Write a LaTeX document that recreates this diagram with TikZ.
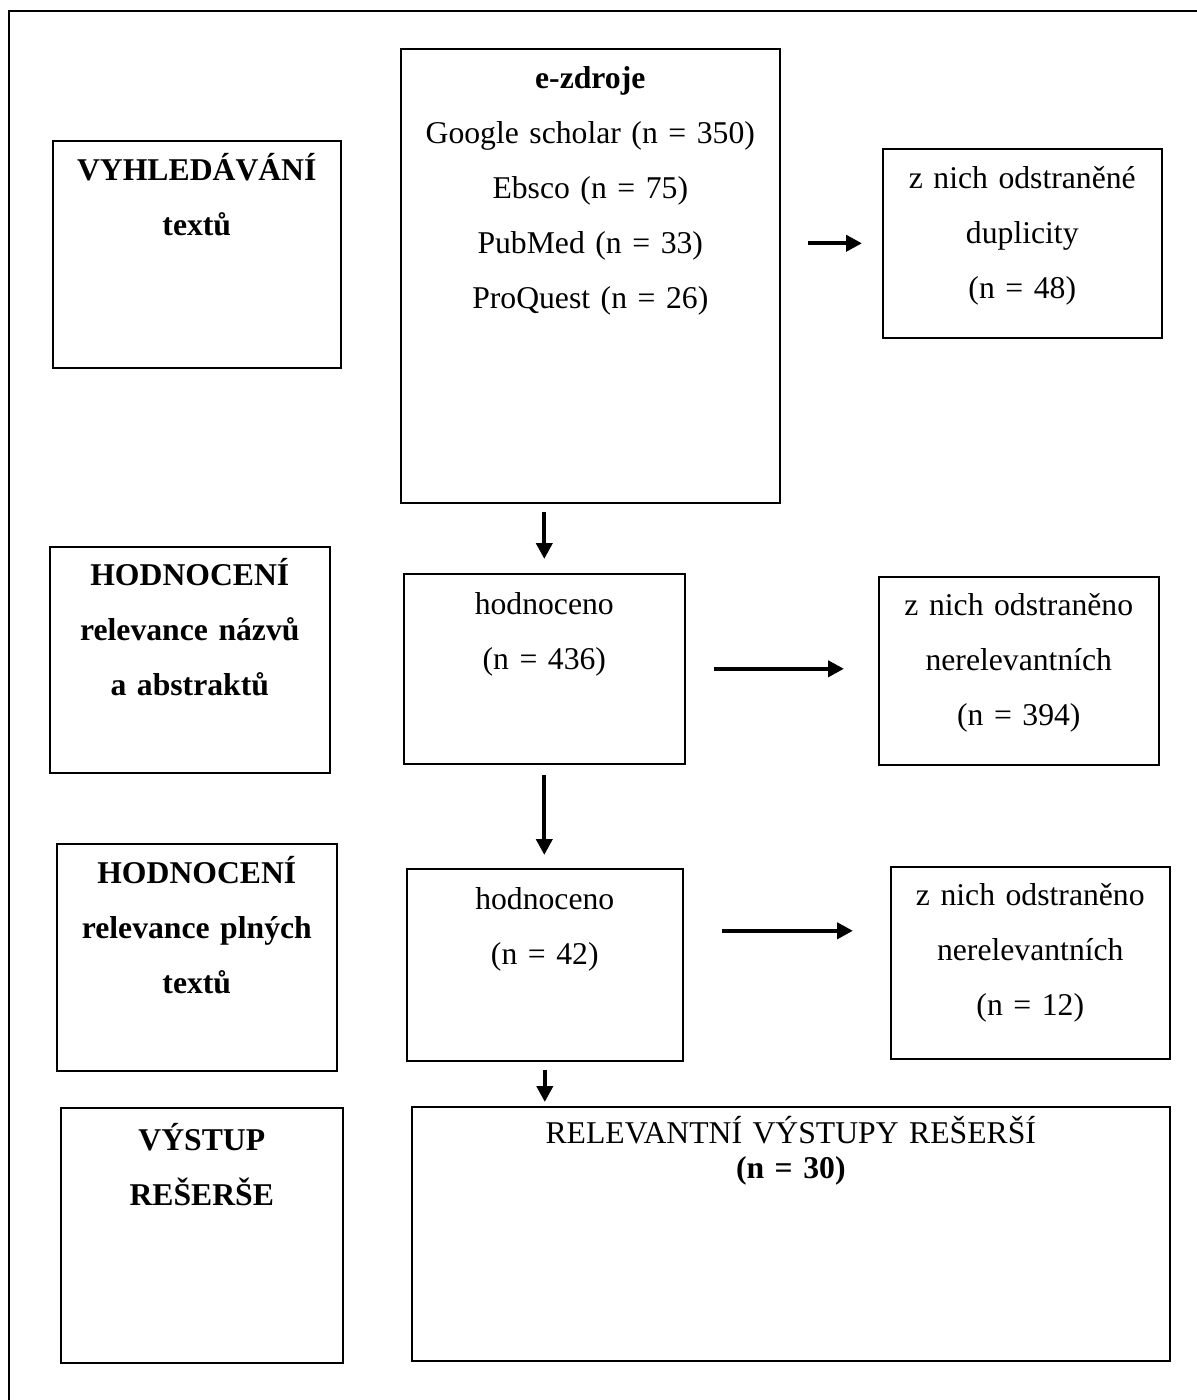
\documentclass[tikz,border=0pt]{standalone}
\usepackage{fontspec}
\setmainfont{Liberation Serif}
\usetikzlibrary{arrows.meta,calc}
\newdimen\px \px=0.3788pt
\tikzset{box/.style={draw,line width=0.6pt,anchor=north west,inner sep=0pt,align=center,font=\fontsize{12pt}{20.8pt}\selectfont}}
\tikzset{stage/.style={box,font=\fontsize{12pt}{20.8pt}\selectfont\bfseries}}
\tikzset{flow/.style={line width=1.5pt,-{Triangle[length=6pt,width=6pt]}}}

\begin{document}
\begin{tikzpicture}[x=\px,y=-\px]
\useasboundingbox (0,0) rectangle (1197,1400);
\draw [line width=0.6pt] (9,1400) -- (9,11) -- (1197,11);

% stages
\node [stage,text width=288\px,text height=40\px,text depth=187\px] (search) at (52,140) {VYHLEDÁVÁNÍ\\textů};
\node [stage,text width=280\px,text height=39\px,text depth=187\px] (titles) at (49,546) {HODNOCENÍ\\relevance názvů\\a abstraktů};
\node [stage,text width=280\px,text height=40\px,text depth=187\px] (fulltext) at (56,843) {HODNOCENÍ\\relevance plných\\textů};
\node [stage,text width=282\px,text height=43\px,text depth=212\px] (output) at (60,1107) {VÝSTUP\\REŠERŠE};

% flow
\node [box,text width=379\px,text height=40\px,text depth=414\px] (ezdroje) at (400,48) {\textbf{e-zdroje}\\Google scholar (n = 350)\\Ebsco (n = 75)\\PubMed (n = 33)\\ProQuest (n = 26)};
\node [box,text width=279\px,text height=40\px,text depth=149\px] (dupl) at (882,148) {z nich odstraněné\\duplicity\\(n = 48)};
\node [box,text width=281\px,text height=41\px,text depth=149\px] (eval1) at (403,573) {hodnoceno\\(n = 436)};
\node [box,text width=280\px,text height=39\px,text depth=149\px] (rem1) at (878,576) {z nich odstraněno\\nerelevantních\\(n = 394)};
\node [box,text width=276\px,text height=41\px,text depth=151\px] (eval2) at (406,868) {hodnoceno\\(n = 42)};
\node [box,text width=279\px,text height=39\px,text depth=153\px] (rem2) at (890,866) {z nich odstraněno\\nerelevantních\\(n = 12)};
\node [box,text width=758\px,text height=37\px,text depth=217\px,font=\fontsize{12pt}{13.3pt}\selectfont] (relev) at (411,1106) {RELEVANTNÍ VÝSTUPY REŠERŠÍ\\\textbf{(n = 30)}};

\draw [flow,shorten <=27\px,shorten >=20\px] (ezdroje.east |- dupl.west) -- (dupl.west);
\draw [flow,shorten <=8\px,shorten >=14\px] (ezdroje.south -| eval1.north) -- (eval1.north);
\draw [flow,shorten <=28\px,shorten >=34\px] (eval1.east) -- (eval1.east -| rem1.west);
\draw [flow,shorten <=10\px,shorten >=13\px] (eval1.south) -- (eval1.south |- eval2.north);
\draw [flow,shorten <=38\px,shorten >=37\px] ($(eval2.east)+(0,-34)$) -- ($(eval2.east -| rem2.west)+(0,-34)$);
\draw [flow,shorten <=8\px,shorten >=4\px] (eval2.south) -- (eval2.south |- relev.north);
\end{tikzpicture}
\end{document}
